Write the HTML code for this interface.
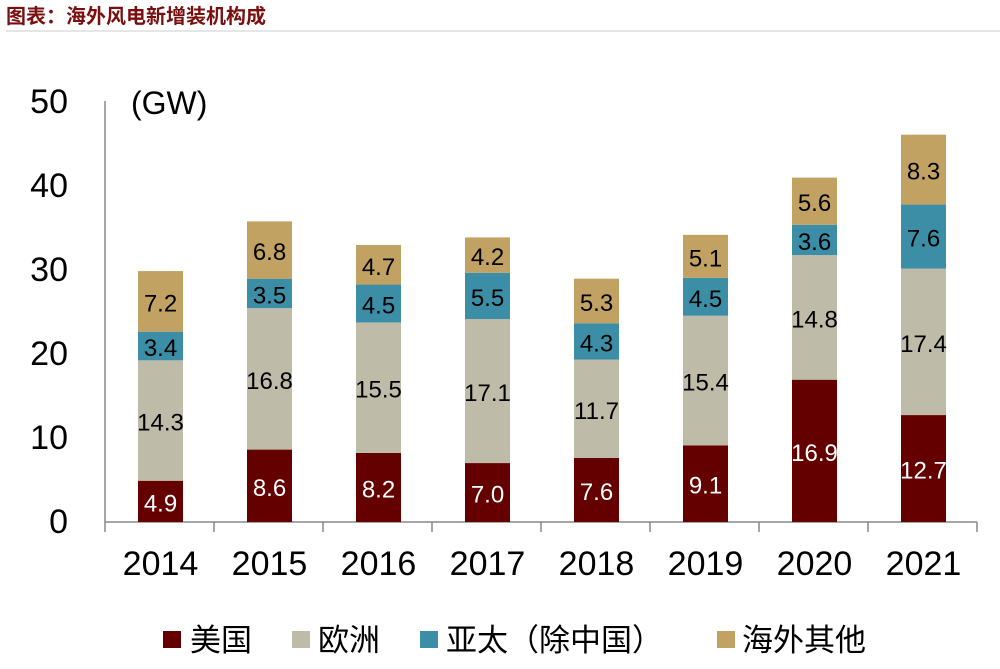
<!DOCTYPE html>
<html><head><meta charset="utf-8"><style>
body{margin:0;background:#fff;}
svg{display:block;font-family:"Liberation Sans","Noto Sans CJK SC",sans-serif;}
</style></head><body>
<svg width="1000" height="669" viewBox="0 0 1000 669" xmlns="http://www.w3.org/2000/svg">
<text x="6" y="23" font-size="20" font-weight="bold" fill="#7a0f10">图表：海外风电新增装机构成</text>
<rect x="6" y="30" width="994" height="2" fill="#e6e6e6"/>
<g font-size="34" fill="#000" text-anchor="end">
<text x="68" y="113">50</text><text x="68" y="197">40</text><text x="68" y="281">30</text>
<text x="68" y="365">20</text><text x="68" y="449">10</text><text x="68" y="533">0</text>
</g>
<text x="131" y="114" font-size="32">(GW)</text>
<line x1="105" y1="101" x2="105" y2="522" stroke="#888" stroke-width="1.5"/>
<line x1="105" y1="522" x2="977" y2="522" stroke="#888" stroke-width="1.5"/>
<g stroke="#888" stroke-width="1.5">
<line x1="105" y1="522" x2="105" y2="532"/><line x1="214" y1="522" x2="214" y2="532"/><line x1="323" y1="522" x2="323" y2="532"/><line x1="432" y1="522" x2="432" y2="532"/><line x1="541" y1="522" x2="541" y2="532"/><line x1="650" y1="522" x2="650" y2="532"/><line x1="759" y1="522" x2="759" y2="532"/><line x1="868" y1="522" x2="868" y2="532"/><line x1="977" y1="522" x2="977" y2="532"/>
</g>
<g>
<rect x="138" y="480.74" width="45" height="41.26" fill="#650000"/>
<rect x="138" y="360.33" width="45" height="120.41" fill="#bebba8"/>
<rect x="138" y="331.7" width="45" height="28.63" fill="#3b8ea5"/>
<rect x="138" y="271.08" width="45" height="60.62" fill="#c1a263"/>
<rect x="247" y="449.59" width="45" height="72.41" fill="#650000"/>
<rect x="247" y="308.13" width="45" height="141.46" fill="#bebba8"/>
<rect x="247" y="278.66" width="45" height="29.47" fill="#3b8ea5"/>
<rect x="247" y="221.4" width="45" height="57.26" fill="#c1a263"/>
<rect x="356" y="452.96" width="45" height="69.04" fill="#650000"/>
<rect x="356" y="322.45" width="45" height="130.51" fill="#bebba8"/>
<rect x="356" y="284.56" width="45" height="37.89" fill="#3b8ea5"/>
<rect x="356" y="244.99" width="45" height="39.57" fill="#c1a263"/>
<rect x="465" y="463.06" width="45" height="58.94" fill="#650000"/>
<rect x="465" y="319.08" width="45" height="143.98" fill="#bebba8"/>
<rect x="465" y="272.77" width="45" height="46.31" fill="#3b8ea5"/>
<rect x="465" y="237.41" width="45" height="35.36" fill="#c1a263"/>
<rect x="574" y="458.01" width="45" height="63.99" fill="#650000"/>
<rect x="574" y="359.5" width="45" height="98.51" fill="#bebba8"/>
<rect x="574" y="323.29" width="45" height="36.21" fill="#3b8ea5"/>
<rect x="574" y="278.66" width="45" height="44.63" fill="#c1a263"/>
<rect x="683" y="445.38" width="45" height="76.62" fill="#650000"/>
<rect x="683" y="315.71" width="45" height="129.67" fill="#bebba8"/>
<rect x="683" y="277.82" width="45" height="37.89" fill="#3b8ea5"/>
<rect x="683" y="234.88" width="45" height="42.94" fill="#c1a263"/>
<rect x="792" y="379.7" width="45" height="142.3" fill="#650000"/>
<rect x="792" y="255.08" width="45" height="124.62" fill="#bebba8"/>
<rect x="792" y="224.77" width="45" height="30.31" fill="#3b8ea5"/>
<rect x="792" y="177.62" width="45" height="47.15" fill="#c1a263"/>
<rect x="901" y="415.07" width="45" height="106.93" fill="#650000"/>
<rect x="901" y="268.56" width="45" height="146.51" fill="#bebba8"/>
<rect x="901" y="204.57" width="45" height="63.99" fill="#3b8ea5"/>
<rect x="901" y="134.68" width="45" height="69.89" fill="#c1a263"/>
</g>
<g font-size="24" text-anchor="middle" fill="#000">
<text x="160.5" y="511.4" fill="#fff">4.9</text><text x="160.5" y="430.5">14.3</text><text x="160.5" y="356">3.4</text><text x="160.5" y="311.4">7.2</text>
<text x="269.5" y="495.8" fill="#fff">8.6</text><text x="269.5" y="388.9">16.8</text><text x="269.5" y="303.4">3.5</text><text x="269.5" y="260">6.8</text>
<text x="378.5" y="497.5" fill="#fff">8.2</text><text x="378.5" y="397.7">15.5</text><text x="378.5" y="313.5">4.5</text><text x="378.5" y="274.8">4.7</text>
<text x="487.5" y="502.5" fill="#fff">7.0</text><text x="487.5" y="401.1">17.1</text><text x="487.5" y="305.9">5.5</text><text x="487.5" y="265.1">4.2</text>
<text x="596.5" y="500" fill="#fff">7.6</text><text x="596.5" y="418.8">11.7</text><text x="596.5" y="351.4">4.3</text><text x="596.5" y="311">5.3</text>
<text x="705.5" y="493.7" fill="#fff">9.1</text><text x="705.5" y="390.5">15.4</text><text x="705.5" y="306.8">4.5</text><text x="705.5" y="266.4">5.1</text>
<text x="814.5" y="460.9" fill="#fff">16.9</text><text x="814.5" y="327.4">14.8</text><text x="814.5" y="249.9">3.6</text><text x="814.5" y="211.2">5.6</text>
<text x="923.5" y="478.5" fill="#fff">12.7</text><text x="923.5" y="351.8">17.4</text><text x="923.5" y="246.6">7.6</text><text x="923.5" y="179.6">8.3</text>
</g>
<g font-size="34" text-anchor="middle">
<text x="160.5" y="575">2014</text><text x="269.5" y="575">2015</text><text x="378.5" y="575">2016</text><text x="487.5" y="575">2017</text>
<text x="596.5" y="575">2018</text><text x="705.5" y="575">2019</text><text x="814.5" y="575">2020</text><text x="923.5" y="575">2021</text>
</g>
<g font-size="31">
<rect x="163" y="631" width="18" height="17" fill="#650000"/><text x="190" y="651">美国</text>
<rect x="292" y="631" width="18" height="17" fill="#bebba8"/><text x="318" y="651">欧洲</text>
<rect x="420" y="631" width="18" height="17" fill="#3b8ea5"/><text x="446" y="651">亚太（除中国）</text>
<rect x="717" y="631" width="18" height="17" fill="#c1a263"/><text x="742" y="651">海外其他</text>
</g>
</svg>
</body></html>
